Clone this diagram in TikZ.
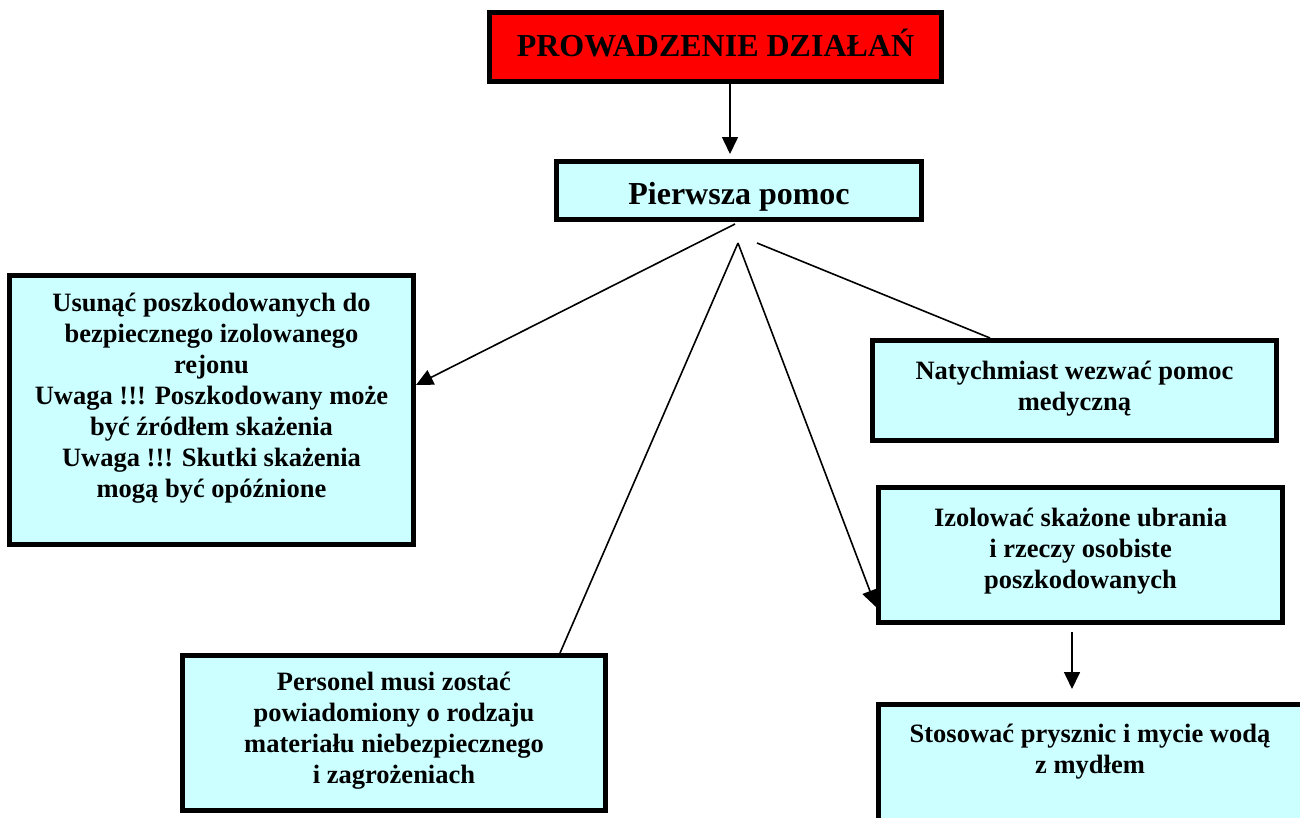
\documentclass[tikz,border=0pt]{standalone}
\usepackage{fontspec}
\setmainfont{Liberation Serif}
\usetikzlibrary{arrows.meta}
\definecolor{czerwony}{RGB}{255,0,0}
\definecolor{blekit}{RGB}{204,255,255}

\tikzset{
  blok/.style={draw, line width=5pt, fill=blekit, inner sep=0pt},
  napis/.style={align=center, anchor=base, inner sep=0pt, font=\bfseries\fontsize{26.5}{31}\selectfont},
  duzy/.style={font=\bfseries\fontsize{32}{38}\selectfont},
  linia/.style={line width=1.6pt},
  strzalka/.style={line width=1.6pt, -{Triangle[length=17pt,width=16pt]}},
}

\begin{document}
\begin{tikzpicture}[x=1pt,y=-1pt]
    \useasboundingbox (0,0) rectangle (1300,817);
    \clip (0,0) rectangle (1300,817);

    % Boxes:
    \node[blok, fill=czerwony, minimum width=452pt, minimum height=69pt] (tytul) at (715.5,47) {};
    \node[blok, minimum width=365pt, minimum height=58pt] (pomoc) at (739,190.5) {};
    \node[blok, minimum width=404pt, minimum height=269pt] (usun) at (211.5,410) {};
    \node[blok, minimum width=404pt, minimum height=100pt] (wezwac) at (1074.5,390.5) {};
    \node[blok, minimum width=404pt, minimum height=135pt] (izolowac) at (1080.5,555) {};
    \node[blok, minimum width=440pt, minimum height=143pt] (prysznic) at (1098.5,776) {};
    \node[blok, minimum width=423pt, minimum height=155pt] (personel) at (394,733) {};

    % Texts (placed by the baseline of their last line):
    \node[napis, duzy] (tytul-t) at (715.5,56) {PROWADZENIE DZIAŁAŃ};
    \node[napis, duzy] (pomoc-t) at (739,204) {Pierwsza pomoc};
    \node[napis] (usun-t) at (211.5,497) {Usunąć poszkodowanych do\\ bezpiecznego izolowanego\\ rejonu\\ Uwaga !!! Poszkodowany może\\ być źródłem skażenia\\ Uwaga !!! Skutki skażenia\\ mogą być opóźnione};
    \node[napis] (wezwac-t) at (1074.5,410) {Natychmiast wezwać pomoc\\ medyczną};
    \node[napis] (izolowac-t) at (1080.5,588) {Izolować skażone ubrania\\ i rzeczy osobiste\\ poszkodowanych};
    \node[napis] (prysznic-t) at (1090,773) {Stosować prysznic i mycie wodą\\ z mydłem};
    \node[napis] (personel-t) at (394,783) {Personel musi zostać\\ powiadomiony o rodzaju\\ materiału niebezpiecznego\\ i zagrożeniach};

    % Connectors:
    \coordinate (rozwidlenie) at (738,243);
    \coordinate (rozwidlenie-p) at (757,243);
    \draw[strzalka] ([xshift=14.5pt]tytul.south) -- ([xshift=-9pt,yshift=5pt]pomoc.north);
    \draw[strzalka] ([xshift=-4pt,yshift=-2pt]pomoc.south) -- ([yshift=25pt]usun.east);
    \draw[linia] (rozwidlenie) -- ([xshift=166pt]personel.north);
    \draw[strzalka] (rozwidlenie) -- ([yshift=-52pt]izolowac.west);
    \draw[linia] (rozwidlenie-p) -- ([xshift=-84.5pt]wezwac.north);
    \draw[strzalka] ([xshift=-8.5pt,yshift=-7pt]izolowac.south) -- ++(0,57);
\end{tikzpicture}
\end{document}
